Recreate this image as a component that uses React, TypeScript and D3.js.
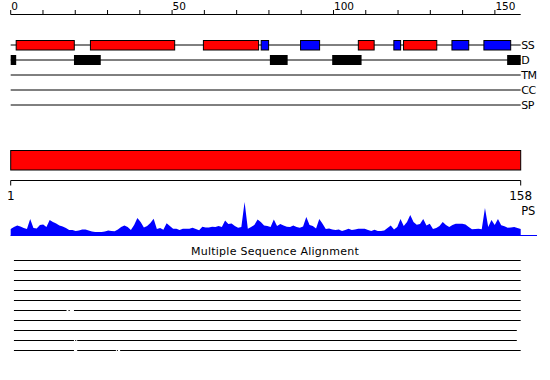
import React from "react";
import * as d3 from "d3";

const W = 550;
const H = 380;
const LENGTH = 158;

const topTicks = [0, 10, 20, 30, 40, 50, 60, 70, 80, 90, 100, 110, 120, 130, 140, 150];
const topTickLabels = [0, 50, 100, 150];

// secondary structure: H = helix (red), E = strand (blue)
const ssStart = [1.7, 24.7, 59.7, 77.6, 89.8, 107.7, 118.7, 121.7, 136.7, 146.6];
const ssEnd = [19.7, 50.8, 76.8, 79.9, 95.7, 112.6, 120.8, 132.0, 141.9, 154.9];
const ssType = ["H", "H", "H", "E", "E", "H", "E", "H", "E", "E"];

// disorder segments
const disStart = [0, 19.6, 80.3, 99.6, 153.8];
const disEnd = [1.7, 27.9, 85.8, 108.7, 158];

const trackLabels = ["SS", "D", "TM", "CC", "SP"];

const domainStart = [1];
const domainEnd = [158];

// PS profile, one value per residue (1..158)
const psValues = [
  7, 9, 10.5, 9.5, 8, 7, 17, 8, 7.5, 11,
  11.5, 9, 16, 14, 12.5, 10.5, 9.5, 8, 6, 6,
  5, 5.5, 6.5, 6.5, 5.5, 4.5, 4, 4, 4, 4.5,
  5.5, 5, 4.7, 6.5, 9, 10.5, 9, 6, 11, 18,
  14, 8.5, 10, 13, 17.3, 7, 8, 6.3, 12.7, 10,
  7.3, 7.3, 6, 7.3, 7.3, 7.3, 8.3, 7, 5.7, 9.3,
  8.5, 8.5, 9.3, 9, 10, 9, 15.5, 12, 12.5, 10,
  8.3, 9, 34, 7.3, 9, 11, 16.5, 14, 10.5, 10,
  9, 16.5, 10, 12, 10.5, 9.3, 9, 10.5, 9, 8.3,
  9.5, 19, 11, 10, 7.5, 17, 12.3, 7, 7.5, 6.5,
  6, 6.5, 5, 6, 7.3, 6, 6.5, 7.3, 7.3, 7.3,
  6, 5, 6.3, 5, 5, 5.5, 8, 10.5, 6.5, 9,
  17, 10, 14, 21, 14, 11.3, 12, 17, 10.5, 12.3,
  7, 8, 10, 14, 11, 9, 11, 12.3, 12.3, 12.3,
  11.5, 9, 6.7, 7, 7.3, 6.7, 28, 9, 16, 11,
  17, 10.7, 9.7, 8.3, 8.5, 9, 8, 7,
];

// Multiple sequence alignment rows: segments [start, end] in sequence units
const msaRows: number[][][] = [
  [[1, 158]],
  [[1, 158]],
  [[1, 158]],
  [[1, 158]],
  [[1, 158]],
  [[1, 17.3], [17.9, 18.3], [19.6, 158]],
  [[1, 158]],
  [[1, 156.8]],
  [[1, 19.6], [20.0, 20.3], [20.6, 156.8]],
  [[1, 19.6], [20.6, 32.6], [32.9, 33.2], [33.9, 158]],
];

const X0 = 10.7;
const X1 = 520.7;
const FONT = "'DejaVu Sans', sans-serif";

export default function App() {
  const xTop = d3.scaleLinear().domain([0, LENGTH]).range([X0, X1]);
  const xPos = d3.scaleLinear().domain([1, LENGTH]).range([X0, X1]);
  const yPS = d3.scaleLinear().domain([0, 40]).range([236, 196]);

  const trackY = [45, 60, 75, 90, 105];

  const area = d3
    .area<number>()
    .x((_, i) => xPos(i + 1))
    .y0(yPS(0))
    .y1((d) => yPS(d))
    .curve(d3.curveLinear);

  return (
    <svg
      width={W}
      height={H}
      style={{ position: "absolute", left: 0, top: 0, background: "#fff" }}
      fontFamily={FONT}
    >
      <rect x={0} y={0} width={W} height={H} fill="#fff" />
      {/* top axis */}
      <line x1={xTop(0)} x2={xTop(LENGTH)} y1={14.5} y2={14.5} stroke="#000" />
      {topTicks.map((t) => (
        <line key={t} x1={xTop(t)} x2={xTop(t)} y1={14.5} y2={10} stroke="#000" />
      ))}
      {topTickLabels.map((t) => (
        <text key={t} x={xTop(t) + 0.5} y={9.5} fontSize={10.5} fill="#000">
          {t}
        </text>
      ))}

      {/* track lines */}
      {trackY.map((y, i) => (
        <line key={i} x1={X0} x2={X1} y1={y} y2={y} stroke="#000" strokeWidth={1} />
      ))}
      {trackLabels.map((l, i) => (
        <text key={l} x={X1 + 0.5} y={trackY[i] + 4.3} fontSize={11} fill="#000" letterSpacing={-0.3}>
          {l}
        </text>
      ))}

      {/* SS */}
      {ssStart.map((s, i) => (
        <rect
          key={i}
          x={xTop(s)}
          y={40.5}
          width={xTop(ssEnd[i]) - xTop(s)}
          height={9.5}
          fill={ssType[i] === "H" ? "#ff0000" : "#0000ff"}
          stroke="#000"
          strokeWidth={1}
        />
      ))}

      {/* disorder */}
      {disStart.map((s, i) => (
        <rect
          key={i}
          x={xTop(s)}
          y={55}
          width={xTop(disEnd[i]) - xTop(s)}
          height={10}
          fill="#000"
        />
      ))}

      {/* domain bar */}
      {domainStart.map((s, i) => (
        <rect
          key={i}
          x={xPos(s)}
          y={150.5}
          width={xPos(domainEnd[i]) - xPos(s)}
          height={19.5}
          fill="#ff0000"
          stroke="#000"
          strokeWidth={1}
        />
      ))}

      {/* bottom axis */}
      <line x1={xPos(1)} x2={xPos(LENGTH)} y1={180.5} y2={180.5} stroke="#000" />
      <line x1={xPos(1)} x2={xPos(1)} y1={180.5} y2={185.5} stroke="#000" />
      <line x1={xPos(LENGTH)} x2={xPos(LENGTH)} y1={180.5} y2={185.5} stroke="#000" />
      <text x={xPos(1)} y={200} fontSize={12} textAnchor="middle" fill="#000">
        1
      </text>
      <text x={xPos(LENGTH)} y={200} fontSize={12} textAnchor="middle" fill="#000">
        {LENGTH}
      </text>
      <text x={X1 + 0.5} y={214.5} fontSize={11.5} fill="#000">
        PS
      </text>

      {/* PS area */}
      <path d={area(psValues) || ""} fill="#0000ff" />
      <line x1={X0} x2={537} y1={235.5} y2={235.5} stroke="#0000ff" />

      {/* MSA */}
      <text x={275} y={255} fontSize={11} textAnchor="middle" letterSpacing={0.25} fill="#000">
        Multiple Sequence Alignment
      </text>
      {msaRows.map((row, r) =>
        row.map((seg, j) => (
          <line
            key={`${r}-${j}`}
            x1={xTop(seg[0])}
            x2={xTop(seg[1])}
            y1={260.5 + r * 10}
            y2={260.5 + r * 10}
            stroke="#000"
            strokeWidth={1}
          />
        ))
      )}
    </svg>
  );
}
